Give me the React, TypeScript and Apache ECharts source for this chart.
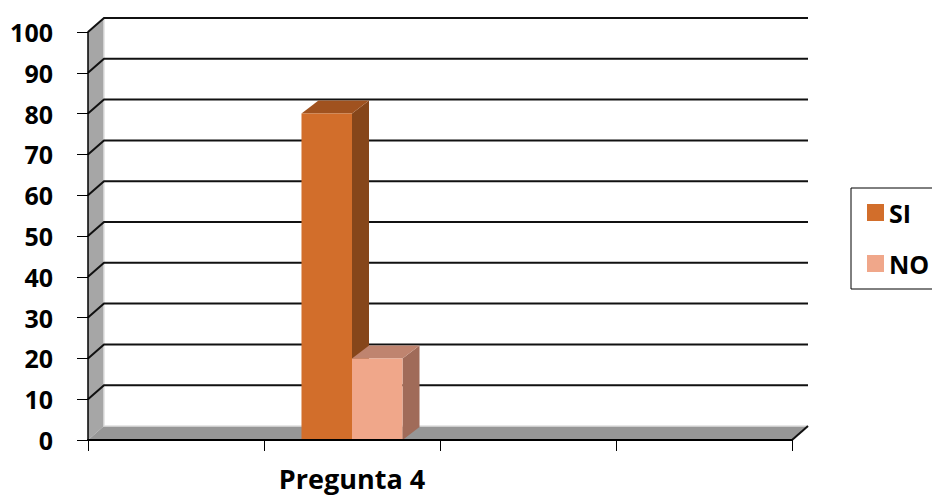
import React, { useEffect, useRef } from "react";
import * as echarts from "echarts";

const categories = ["", "Pregunta 4", "", ""];
const siValues: (number | null)[] = [null, 80, null, null];
const noValues: (number | null)[] = [null, 20, null, null];
const yTicks = [0, 10, 20, 30, 40, 50, 60, 70, 80, 90, 100];
const seriesNames = ["SI", "NO"];

const FONT = "Open Sans";
const WALL_D = [16, -14];
const BAR_D = [17, -13];

const barColors = [
  { front: "#d26e2b", side: "#86461a", top: "#a0521f" },
  { front: "#f0a78a", side: "#a06b59", top: "#bf846f" },
];

export default function App() {
  const ref = useRef<HTMLDivElement>(null);
  useEffect(() => {
    const chart = echarts.init(ref.current!, null, { renderer: "svg" });

    const wallsRender = (params: any, api: any) => {
      const band = api.size([1, 0])[0];
      const n = categories.length;
      const x0 = api.coord([0, 0])[0] - band / 2;
      const x1 = api.coord([n - 1, 0])[0] + band / 2;
      const y0 = api.coord([0, 0])[1];
      const yMax = api.coord([0, yTicks[yTicks.length - 1]])[1];
      const [dx, dy] = WALL_D;
      const children: any[] = [];
      children.push({
        type: "polygon",
        shape: { points: [[x0, y0], [x0, yMax], [x0 + dx, yMax + dy], [x0 + dx, y0 + dy]] },
        style: { fill: "#a6a6a6" },
      });
      children.push({
        type: "polygon",
        shape: { points: [[x0, y0], [x0 + dx, y0 + dy], [x1 + dx, y0 + dy], [x1, y0]] },
        style: { fill: "#969696" },
      });
      children.push({
        type: "polyline",
        shape: { points: [[x0 + dx, yMax + dy], [x0 + dx, y0 + dy], [x1 + dx, y0 + dy]] },
        style: { stroke: "#e0e0e0", lineWidth: 1.5, fill: "none" },
      });
      yTicks.forEach((t) => {
        if (t === 0) return;
        const y = api.coord([0, t])[1];
        children.push({
          type: "polyline",
          shape: { points: [[x0, y], [x0 + dx, y + dy], [x1 + dx, y + dy]] },
          style: { stroke: "#111", lineWidth: 2, fill: "none" },
        });
      });
      children.push({
        type: "line",
        shape: { x1: x1, y1: y0, x2: x1 + dx, y2: y0 + dy },
        style: { stroke: "#111", lineWidth: 2 },
      });
      return { type: "group", children };
    };

    const makeBarRender = (s: number) => (params: any, api: any) => {
      const v = api.value(1);
      if (v == null || isNaN(v)) return null;
      const cat = api.value(0);
      const base = api.coord([cat, 0]);
      const top = api.coord([cat, v]);
      const band = api.size([1, 0])[0];
      const bw = band * 0.287;
      const xl = base[0] - bw + s * bw;
      const xr = xl + bw;
      const [dx, dy] = BAR_D;
      const c = barColors[s];
      return {
        type: "group",
        children: [
          {
            type: "polygon",
            shape: { points: [[xr, top[1]], [xr + dx, top[1] + dy], [xr + dx, base[1] + dy], [xr, base[1]]] },
            style: { fill: c.side },
          },
          {
            type: "polygon",
            shape: { points: [[xl, top[1]], [xl + dx, top[1] + dy], [xr + dx, top[1] + dy], [xr, top[1]]] },
            style: { fill: c.top },
          },
          {
            type: "rect",
            shape: { x: xl, y: top[1], width: bw, height: base[1] - top[1] },
            style: { fill: c.front },
          },
        ],
      };
    };

    const valuesList = [siValues, noValues];

    chart.setOption({
      animation: false,
      backgroundColor: "#ffffff",
      grid: { left: 88, right: 140, top: 32, bottom: 56 },
      legend: {
        data: seriesNames,
        orient: "vertical",
        left: 851,
        top: 188,
        padding: [12, 30, 13, 16],
        itemWidth: 17,
        itemHeight: 17,
        itemGap: 26,
        icon: "rect",
        borderColor: "#000",
        borderWidth: 1,
        textStyle: {
          fontFamily: FONT,
          fontWeight: "bold",
          fontSize: 25,
          lineHeight: 25,
          color: "#000",
        },
      },
      xAxis: {
        type: "category",
        data: categories,
        boundaryGap: true,
        axisLine: { show: true, lineStyle: { color: "#000", width: 2 } },
        axisTick: { show: true, length: 11, lineStyle: { color: "#000", width: 1 } },
        axisLabel: {
          margin: 25,
          fontFamily: FONT,
          fontWeight: "bold",
          fontSize: 27,
          lineHeight: 27,
          color: "#000",
          interval: 0,
        },
        splitLine: { show: false },
        z: 10,
      },
      yAxis: {
        type: "value",
        min: 0,
        max: 100,
        interval: 10,
        axisLine: { show: true, lineStyle: { color: "#000", width: 1.5 } },
        axisTick: { show: true, length: 11, lineStyle: { color: "#000", width: 1 } },
        axisLabel: {
          margin: 35,
          fontFamily: FONT,
          fontWeight: "bold",
          fontSize: 25,
          color: "#000",
        },
        splitLine: { show: false },
        z: 10,
      },
      series: [
        {
          type: "custom",
          name: "walls",
          silent: true,
          z: 1,
          renderItem: wallsRender,
          data: [[0, 0]],
          encode: { x: 0, y: 1 },
        },
        ...seriesNames.map((name, s) => ({
          type: "custom",
          name,
          z: 2 + s,
          itemStyle: { color: barColors[s].front },
          renderItem: makeBarRender(s),
          encode: { x: 0, y: 1 },
          data: valuesList[s].map((v, i) => [i, v]),
        })),
      ],
    });
    return () => chart.dispose();
  }, []);
  return (
    <div
      ref={ref}
      style={{ position: "fixed", left: 0, top: 0, width: 932, height: 496 }}
    />
  );
}
